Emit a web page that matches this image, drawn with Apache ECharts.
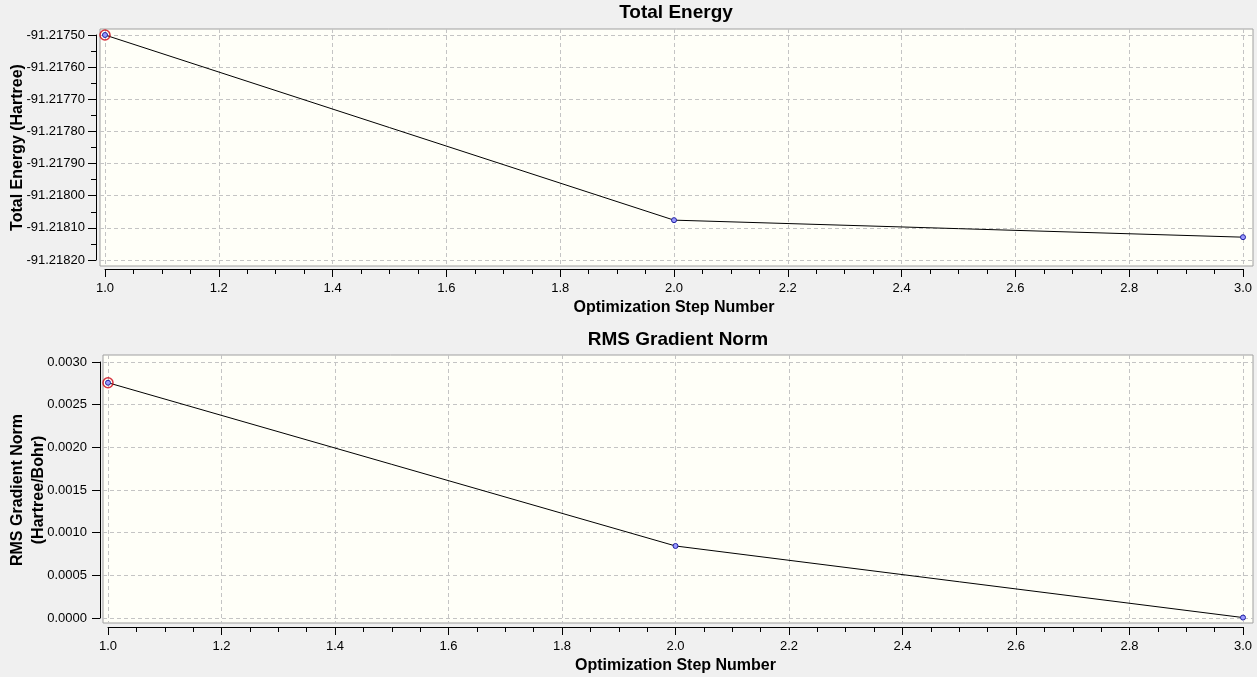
<!DOCTYPE html>
<html>
<head>
<meta charset="utf-8">
<script src="https://cdn.jsdelivr.net/npm/echarts@6/dist/echarts.min.js"></script>
<style>
html,body{margin:0;padding:0;background:#f0f0f0;}
#chart{width:1257px;height:677px;}
</style>
</head>
<body>
<div id="chart"></div>
<script>
// ---- data ----
const steps = [1, 2, 3];
const totalEnergy = [-91.21750, -91.218076, -91.218129];
const rmsGradient = [0.002757, 0.000844, 0.000005];
const xTicks = [1.0, 1.2, 1.4, 1.6, 1.8, 2.0, 2.2, 2.4, 2.6, 2.8, 3.0];
const energyTicks = [-91.21820, -91.21810, -91.21800, -91.21790, -91.21780, -91.21770, -91.21760, -91.21750];
const gradTicks = [0.0000, 0.0005, 0.0010, 0.0015, 0.0020, 0.0025, 0.0030];

const FONT = 'Liberation Sans, Arial, sans-serif';
const W = 1257, H = 677;

// layout (pixels)
const layTop = {box: {l: 100, t: 29, r: 1253, b: 266}, data: {l: 105, t: 35, r: 1243, b: 260}};
const layBot = {box: {l: 103, t: 355, r: 1253, b: 623}, data: {l: 108, t: 362, r: 1243, b: 618}};

function boxRange(L, dmin, dmax, isY) {
  const d = L.data, b = L.box;
  if (!isY) {
    const ppu = (d.r - d.l) / (dmax - dmin);
    return [dmin - (d.l - b.l) / ppu, dmax + (b.r - d.r) / ppu];
  } else {
    const ppu = (d.b - d.t) / (dmax - dmin);
    return [dmin - (b.b - d.b) / ppu, dmax + (d.t - b.t) / ppu];
  }
}
function gridOf(r, show) {
  return {left: r.l, top: r.t, width: r.r - r.l, height: r.b - r.t, show: show,
    backgroundColor: show ? '#fffff8' : 'transparent', borderColor: '#a0a0a0', borderWidth: 1,
    containLabel: false, outerBoundsMode: 'none'};
}
const splitStyle = {show: true, lineStyle: {color: '#c4c4c4', type: [4, 3], width: 1}};

function boxXAxis(gi, L) {
  const r = boxRange(L, 1, 3, false);
  return {type: 'value', gridIndex: gi, min: r[0], max: r[1], axisLine: {show: false},
    axisTick: {show: false, customValues: xTicks}, axisLabel: {show: false, customValues: xTicks},
    splitLine: splitStyle};
}
function boxYAxis(gi, L, mn, mx, ticks) {
  const r = boxRange(L, mn, mx, true);
  return {type: 'value', gridIndex: gi, min: r[0], max: r[1], axisLine: {show: false},
    axisTick: {show: false, customValues: ticks}, axisLabel: {show: false, customValues: ticks},
    splitLine: splitStyle};
}
function dataXAxis(gi) {
  return {type: 'value', gridIndex: gi, min: 1, max: 3, interval: 0.2, offset: 9,
    name: 'Optimization Step Number', nameLocation: 'middle', nameGap: 31, nameMoveOverlap: false,
    nameTextStyle: {fontFamily: FONT, fontSize: 16, fontWeight: 'bold', color: '#000'},
    axisLine: {show: true, onZero: false, lineStyle: {color: '#000', width: 1}},
    axisTick: {show: true, length: 8, lineStyle: {color: '#000'}},
    minorTick: {show: true, splitNumber: 4, length: 5, lineStyle: {color: '#000'}},
    axisLabel: {fontFamily: FONT, fontSize: 13, color: '#000', margin: 13, formatter: v => v.toFixed(1)},
    splitLine: {show: false}};
}

const option = {
  animation: false,
  backgroundColor: '#f0f0f0',
  title: [
    {text: 'Total Energy', left: 676, top: 3, textAlign: 'center', padding: 0,
      textStyle: {fontFamily: FONT, fontSize: 19, fontWeight: 'bold', color: '#000'}},
    {text: 'RMS Gradient Norm', left: 678, top: 330, textAlign: 'center', padding: 0,
      textStyle: {fontFamily: FONT, fontSize: 19, fontWeight: 'bold', color: '#000'}}
  ],
  grid: [gridOf(layTop.box, true), gridOf(layTop.data, false), gridOf(layBot.box, true), gridOf(layBot.data, false)],
  xAxis: [boxXAxis(0, layTop), dataXAxis(1), boxXAxis(2, layBot), dataXAxis(3)],
  yAxis: [
    boxYAxis(0, layTop, energyTicks[0], energyTicks[energyTicks.length - 1], energyTicks),
    {type: 'value', gridIndex: 1, min: energyTicks[0], max: energyTicks[energyTicks.length - 1], interval: 0.0001, offset: 9,
      name: 'Total Energy (Hartree)', nameLocation: 'middle', nameGap: 70, nameRotate: 90, nameMoveOverlap: false,
      nameTextStyle: {fontFamily: FONT, fontSize: 16, fontWeight: 'bold', color: '#000'},
      axisLine: {show: true, onZero: false, lineStyle: {color: '#000'}},
      axisTick: {show: true, length: 8, lineStyle: {color: '#000'}},
      minorTick: {show: true, splitNumber: 2, length: 5, lineStyle: {color: '#000'}},
      axisLabel: {fontFamily: FONT, fontSize: 13, color: '#000', margin: 11, formatter: v => v.toFixed(5)},
      splitLine: {show: false}},
    boxYAxis(2, layBot, gradTicks[0], gradTicks[gradTicks.length - 1], gradTicks),
    {type: 'value', gridIndex: 3, min: 0, max: 0.003, interval: 0.0005, offset: 8,
      name: 'RMS Gradient Norm\n(Hartree/Bohr)', nameLocation: 'middle', nameGap: 51, nameRotate: 90, nameMoveOverlap: false,
      nameTextStyle: {fontFamily: FONT, fontSize: 16, fontWeight: 'bold', color: '#000', lineHeight: 21},
      axisLine: {show: true, onZero: false, lineStyle: {color: '#000'}},
      axisTick: {show: true, length: 8, lineStyle: {color: '#000'}},
      axisLabel: {fontFamily: FONT, fontSize: 13, color: '#000', margin: 13, formatter: v => v.toFixed(4)},
      splitLine: {show: false}}
  ],
  series: [
    {type: 'line', xAxisIndex: 1, yAxisIndex: 1, data: steps.map((s, i) => [s, totalEnergy[i]]),
      lineStyle: {color: '#000', width: 1}, symbol: 'circle', symbolSize: 5,
      itemStyle: {color: '#9a9aff', borderColor: '#2020a0', borderWidth: 1}, z: 3},
    {type: 'scatter', xAxisIndex: 1, yAxisIndex: 1, data: [[steps[0], totalEnergy[0]]],
      symbol: 'circle', symbolSize: 10, itemStyle: {color: 'rgba(0,0,0,0)', borderColor: '#cc0010', borderWidth: 1.5}, z: 4},
    {type: 'line', xAxisIndex: 3, yAxisIndex: 3, data: steps.map((s, i) => [s, rmsGradient[i]]),
      lineStyle: {color: '#000', width: 1}, symbol: 'circle', symbolSize: 5,
      itemStyle: {color: '#9a9aff', borderColor: '#2020a0', borderWidth: 1}, z: 3},
    {type: 'scatter', xAxisIndex: 3, yAxisIndex: 3, data: [[steps[0], rmsGradient[0]]],
      symbol: 'circle', symbolSize: 10, itemStyle: {color: 'rgba(0,0,0,0)', borderColor: '#cc0010', borderWidth: 1.5}, z: 4}
  ]
};
const chart = echarts.init(document.getElementById('chart'), null, {renderer: 'canvas', width: W, height: H});
chart.setOption(option);
</script>
</body>
</html>
